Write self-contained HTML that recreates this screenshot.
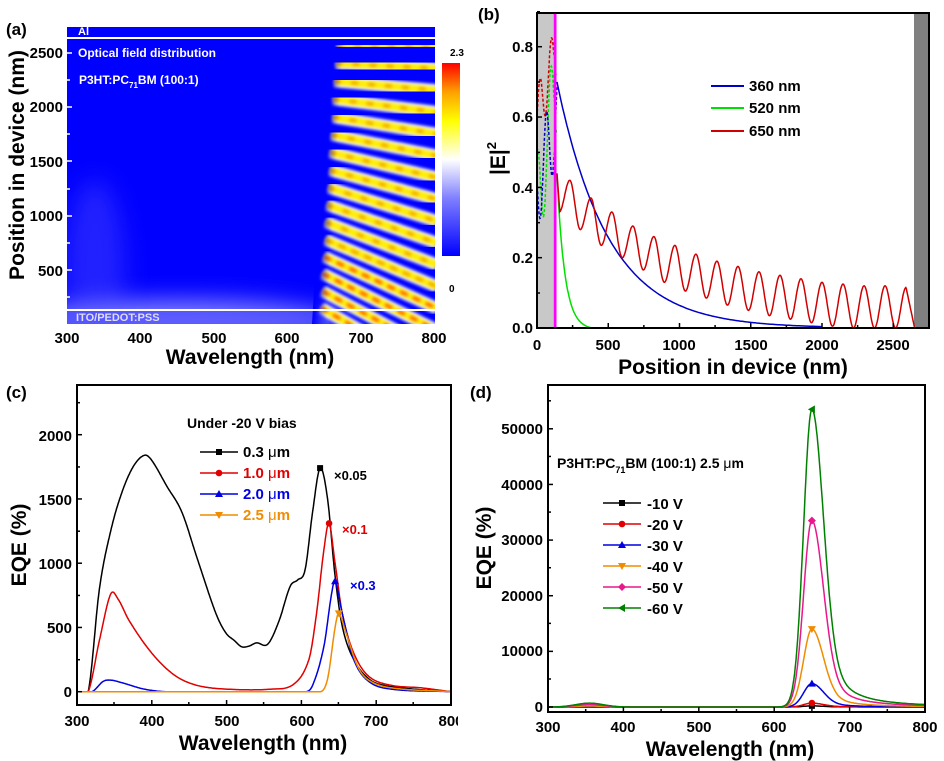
<!DOCTYPE html>
<html><head><meta charset="utf-8"><style>
body{margin:0;background:#fff;}
svg{display:block;font-family:"Liberation Sans",sans-serif;font-weight:bold;}
</style></head><body>
<svg id="s" width="944" height="761" viewBox="0 0 944 761" xmlns="http://www.w3.org/2000/svg">
<defs>
<linearGradient id="cb" x1="0" y1="1" x2="0" y2="0">
<stop offset="0" stop-color="#0000ff"/><stop offset="0.3" stop-color="#8080ff"/><stop offset="0.5" stop-color="#ffffff"/><stop offset="0.7" stop-color="#ffff00"/><stop offset="0.85" stop-color="#ffa000"/><stop offset="1" stop-color="#ff0000"/>
</linearGradient>
<clipPath id="ca"><rect x="67" y="27" width="368" height="297"/></clipPath>
<filter id="bf"><feGaussianBlur stdDeviation="1.5"/></filter>
<filter id="bg" x="-100%" y="-200%" width="300%" height="500%"><feGaussianBlur stdDeviation="12"/></filter>
</defs>

<!-- Panel a -->
<rect x="67" y="27" width="368" height="297" fill="#0000ff"/>
<g clip-path="url(#ca)">
<ellipse cx="180" cy="322" rx="160" ry="22" fill="#b8b8ff" opacity="0.7" filter="url(#bg)"/>
<ellipse cx="95" cy="270" rx="30" ry="90" fill="#6060ff" opacity="0.35" filter="url(#bg)"/>
<rect x="67" y="311" width="262" height="13" fill="#4848ff" opacity="0.6"/>
<g id="stripes"></g>
</g>
<rect x="67" y="27" width="368" height="10" fill="#0000ff"/>
<line x1="67" y1="38" x2="435" y2="38" stroke="#fff" stroke-width="2"/>
<line x1="67" y1="310" x2="435" y2="310" stroke="#fff" stroke-width="2"/>
<g fill="#fff" font-size="11">
<text x="78" y="35">Al</text>
<text x="78" y="57" font-size="12">Optical field distribution</text>
<text x="79" y="84" font-size="12">P3HT:PC<tspan font-size="8" dy="4">71</tspan><tspan dy="-4">BM (100:1)</tspan></text>
<text x="76" y="321" fill="#dde">ITO/PEDOT:PSS</text>
</g>
<g stroke="#fff" stroke-width="1.5">
<line x1="67" y1="53" x2="72" y2="53"/><line x1="67" y1="107" x2="72" y2="107"/>
<line x1="67" y1="161" x2="72" y2="161"/><line x1="67" y1="216" x2="72" y2="216"/>
<line x1="67" y1="270" x2="72" y2="270"/><line x1="67" y1="80" x2="70" y2="80"/><line x1="67" y1="134" x2="70" y2="134"/>
<line x1="67" y1="189" x2="70" y2="189"/><line x1="67" y1="243" x2="70" y2="243"/><line x1="67" y1="297" x2="70" y2="297"/>
</g>
<rect x="442" y="63" width="18" height="193" fill="url(#cb)"/>
<text x="450" y="56" font-size="10">2.3</text>
<text x="449" y="292" font-size="10">0</text>
<g font-size="15" text-anchor="end">
<text x="63" y="58">2500</text><text x="63" y="112">2000</text><text x="63" y="167">1500</text><text x="63" y="221">1000</text><text x="63" y="276">500</text>
</g>
<g font-size="15" text-anchor="middle">
<text x="67" y="343">300</text><text x="140" y="343">400</text><text x="214" y="343">500</text><text x="287" y="343">600</text><text x="361" y="343">700</text><text x="434" y="343">800</text>
</g>
<text x="250" y="364" font-size="21" text-anchor="middle">Wavelength (nm)</text>
<text transform="translate(24,165) rotate(-90)" font-size="21" text-anchor="middle">Position in device (nm)</text>
<text x="6" y="35" font-size="17">(a)</text>

<!-- Panel b -->
<rect x="537" y="13" width="16" height="315" fill="#c8c8c8"/>
<rect x="914" y="13" width="15" height="315" fill="#808080"/>
<g id="bdash" fill="none" stroke-width="1.5" stroke-dasharray="3,2"></g>
<line x1="555" y1="13" x2="555" y2="328" stroke="#ff00ff" stroke-width="3"/>
<g id="bcurves" fill="none" stroke-width="1.5"></g>
<rect x="537" y="13" width="392" height="315" fill="none" stroke="#000" stroke-width="2"/>
<g stroke="#000" stroke-width="1.5" id="bticks"></g>
<g font-size="15" text-anchor="end">
<text x="533" y="333">0.0</text><text x="533" y="263">0.2</text><text x="533" y="193">0.4</text><text x="533" y="122">0.6</text><text x="533" y="52">0.8</text>
</g>
<g font-size="15" text-anchor="middle">
<text x="537" y="350">0</text><text x="608" y="350">500</text><text x="679" y="350">1000</text><text x="751" y="350">1500</text><text x="822" y="350">2000</text><text x="893" y="350">2500</text>
</g>
<text x="733" y="374" font-size="21" text-anchor="middle">Position in device (nm)</text>
<text transform="translate(505,175) rotate(-90)" font-size="21">|E|<tspan font-size="13" dy="-9">2</tspan></text>
<text x="478" y="20" font-size="17">(b)</text>
<line x1="711" y1="86" x2="744" y2="86" stroke="#0000c8" stroke-width="2"/>
<line x1="711" y1="108" x2="744" y2="108" stroke="#00e000" stroke-width="2"/>
<line x1="711" y1="131" x2="744" y2="131" stroke="#d00000" stroke-width="2"/>
<g font-size="15"><text x="749" y="91">360 nm</text><text x="749" y="113">520 nm</text><text x="749" y="136">650 nm</text></g>

<!-- Panel c -->
<g id="ccurves" fill="none" stroke-width="1.5"></g>
<rect x="77" y="385" width="374" height="320" fill="none" stroke="#000" stroke-width="2"/>
<g stroke="#000" stroke-width="1.5" id="cticks"></g>
<g font-size="15" text-anchor="end">
<text x="72" y="697">0</text><text x="72" y="633">500</text><text x="72" y="569">1000</text><text x="72" y="505">1500</text><text x="72" y="441">2000</text>
</g>
<g font-size="15" text-anchor="middle">
<text x="77" y="726">300</text><text x="152" y="726">400</text><text x="227" y="726">500</text><text x="302" y="726">600</text><text x="376" y="726">700</text><text x="451" y="726">800</text>
</g>
<rect x="458" y="705" width="20" height="30" fill="#fff"/>
<text x="263" y="750" font-size="21" text-anchor="middle">Wavelength (nm)</text>
<text transform="translate(26,545) rotate(-90)" font-size="21" text-anchor="middle">EQE (%)</text>
<text x="6" y="398" font-size="17">(c)</text>
<text x="187" y="428" font-size="14">Under -20 V bias</text>
<g font-size="15">
<text x="243" y="457">0.3 <tspan font-weight="normal">μ</tspan>m</text>
<text x="243" y="478" fill="#e00000">1.0 <tspan font-weight="normal">μ</tspan>m</text>
<text x="243" y="499" fill="#0000e0">2.0 <tspan font-weight="normal">μ</tspan>m</text>
<text x="243" y="520" fill="#f08c00">2.5 <tspan font-weight="normal">μ</tspan>m</text>
</g>
<g font-size="13"><text x="334" y="480">×0.05</text><text x="342" y="534" fill="#e00000">×0.1</text><text x="350" y="590" fill="#0000e0">×0.3</text></g>
<g id="cleg"></g>

<!-- Panel d -->
<g id="dcurves" fill="none" stroke-width="1.5"></g>
<rect x="548" y="385" width="377" height="327" fill="none" stroke="#000" stroke-width="2"/>
<g stroke="#000" stroke-width="1.5" id="dticks"></g>
<g font-size="15" text-anchor="end">
<text x="543" y="712">0</text><text x="543" y="656">10000</text><text x="543" y="601">20000</text><text x="543" y="545">30000</text><text x="543" y="490">40000</text><text x="543" y="434">50000</text>
</g>
<g font-size="15" text-anchor="middle">
<text x="548" y="732">300</text><text x="623" y="732">400</text><text x="699" y="732">500</text><text x="774" y="732">600</text><text x="850" y="732">700</text><text x="925" y="732">800</text>
</g>
<text x="730" y="756" font-size="21" text-anchor="middle">Wavelength (nm)</text>
<text transform="translate(491,548) rotate(-90)" font-size="21" text-anchor="middle">EQE (%)</text>
<text x="470" y="398" font-size="17">(d)</text>
<text x="557" y="468" font-size="14">P3HT:PC<tspan font-size="9" dy="5">71</tspan><tspan dy="-5">BM (100:1)  2.5 </tspan><tspan font-weight="normal">μ</tspan>m</text>
<g font-size="15">
<text x="647" y="509">-10 V</text><text x="647" y="530">-20 V</text><text x="647" y="551">-30 V</text><text x="647" y="572">-40 V</text><text x="647" y="593">-50 V</text><text x="647" y="614">-60 V</text>
</g>
<g id="dleg"></g>
</svg>
<script>
var NS="http://www.w3.org/2000/svg";
function el(p,t,a){var e=document.createElementNS(NS,t);for(var k in a)e.setAttribute(k,a[k]);document.getElementById(p).appendChild(e);return e;}
function pts(arr){return arr.map(function(p,i){return (i?"L":"M")+p[0].toFixed(1)+","+p[1].toFixed(1);}).join("");}
// stripes
(function(){
 function X(l){return 67+(l-300)*0.734;}
 function xs(y){return 337-18*(y-27)/297;}
 for(var k=0;k<16;k++){
  var a=[];
  for(var l=630;l<=805;l+=2){var x=X(l),y=38+(k+0.4)*21.7*l/800;if(x>=xs(y))a.push([x,y]);}
  if(a.length<2)continue;
  var d=pts(a);
  el("stripes","path",{d:d,fill:"none",stroke:"#ffffff","stroke-width":12,filter:"url(#bf)",opacity:0.95});
  el("stripes","path",{d:d,fill:"none",stroke:"#ffee00","stroke-width":7,filter:"url(#bf)"});
  var dash=(k>10)?"8,6":"7,10";
  el("stripes","path",{d:d,fill:"none",stroke:(k>11)?"#ff5000":"#f0a000","stroke-width":3,"stroke-dasharray":dash,filter:"url(#bf)"});
 }
 for(var i=0;i<14;i++){
  var op=Math.pow(1-i/14,1.3);
  el("stripes","path",{d:"M"+(330+i)+",27L"+(331.2+i)+",27L"+(313.2+i)+",324L"+(312+i)+",324Z",fill:"#0000ff",opacity:op.toFixed(3)});
 }
})();
// panel b
(function(){
 function X(p){return 537+p*0.1425;} function Y(v){return 328-v*351.6;}
 var b=[],g=[],r=[];
 for(var p=140;p<=2000;p+=10)b.push([X(p),Y(0.70*Math.exp(-(p-140)/360))]);
 for(var p=140;p<=420;p+=5)g.push([X(p),Y(Math.max(0,0.44*Math.exp(-(p-140)/55)-0.005))]);
 var peaks=[0.42,0.37,0.33,0.29,0.26,0.235,0.21,0.19,0.175,0.16,0.15,0.14,0.13,0.125,0.12,0.12,0.115];
 var mins=[0.33,0.28,0.235,0.2,0.165,0.13,0.105,0.085,0.065,0.05,0.035,0.025,0.015,0.005,0,0,0,0];
 r.push([X(140),Y(0.44)]);
 for(var p=160;p<=2650;p+=4){
  var ph=(p-230)/147.5;
  var c=Math.cos(2*Math.PI*ph);
  var i=Math.max(0,Math.min(16,Math.round(ph)));
  var mi=Math.max(0,Math.min(17,Math.floor(ph+1)));
  var pk=peaks[i], mn=mins[mi];
  if(p<230){pk=0.42;mn=0.33;}
  var v=mn+(pk-mn)*(c+1)/2;
  if(p>2590)v=0.115*(2650-p)/60;
  r.push([X(p),Y(v)]);
 }
 el("bcurves","path",{d:pts(b),stroke:"#0000c8"});
 el("bcurves","path",{d:pts(g),stroke:"#00e000"});
 el("bcurves","path",{d:pts(r),stroke:"#d00000"});
 function wave(col,amp,y0,y1,ph,per){var a=[];for(var p=0;p<=140;p+=2){var v=y0+(y1-y0)*p/140+amp*Math.sin(2*Math.PI*p/per+ph);a.push([X(p),Y(v)]);}el("bdash","path",{d:pts(a),stroke:col});}
 wave("#d00000",0.08,0.6,0.8,0,80);
 wave("#00e000",0.15,0.35,0.7,1.5,95);
 wave("#0000c8",0.12,0.4,0.6,3,85);
 for(var i=0;i<=4;i++){var y=Y(i*0.2);el("bticks","line",{x1:537,y1:y,x2:542,y2:y});el("bticks","line",{x1:537,y1:y-35,x2:540,y2:y-35});}
 for(var i=0;i<=5;i++){var x=X(i*500);el("bticks","line",{x1:x,y1:328,x2:x,y2:323});el("bticks","line",{x1:x+35.6,y1:328,x2:x+35.6,y2:325});}
})();
function interp(tab,l){
 for(var i=0;i<tab.length-1;i++){if(l>=tab[i][0]&&l<=tab[i+1][0]){
  var p0=tab[Math.max(0,i-1)],p1=tab[i],p2=tab[i+1],p3=tab[Math.min(tab.length-1,i+2)];
  var t=(l-p1[0])/(p2[0]-p1[0]);
  var m1=(p2[1]-p0[1])/(p2[0]-p0[0])*(p2[0]-p1[0]);
  var m2=(p3[1]-p1[1])/(p3[0]-p1[0])*(p2[0]-p1[0]);
  var t2=t*t,t3=t2*t;
  var v=(2*t3-3*t2+1)*p1[1]+(t3-2*t2+t)*m1+(-2*t3+3*t2)*p2[1]+(t3-t2)*m2;
  return Math.max(0,v);}}return 0;}
// panel c
(function(){
 function X(l){return 77+(l-300)*0.748;} function Y(v){return 691.7-v*0.1285;}
 var S=[
 ["#000",[[300,0],[315,0],[330,800],[345,1250],[360,1550],[375,1750],[390,1840],[400,1800],[420,1600],[440,1400],[460,1050],[480,700],[490,550],[500,450],[510,400],[520,350],[530,355],[540,380],[555,370],[570,550],[585,820],[595,870],[605,950],[615,1400],[625,1740],[635,1500],[645,900],[655,500],[670,250],[690,100],[710,50],[750,20],[800,0]],625,"s"],
 ["#e00000",[[300,0],[315,0],[330,400],[345,760],[355,720],[370,550],[400,300],[430,130],[460,50],[500,20],[560,20],[590,60],[610,250],[620,600],[630,1100],[637,1310],[645,1000],[655,600],[670,300],[690,120],[720,50],[760,30],[800,0]],637,"c"],
 ["#0000e0",[[300,0],[320,0],[335,80],[345,90],[360,70],[390,20],[420,0],[605,0],[615,50],[630,350],[640,750],[645,860],[655,600],[670,250],[690,80],[720,20],[800,0]],645,"t"],
 ["#f08c00",[[300,0],[625,0],[635,100],[645,500],[650,610],[660,450],[675,200],[690,90],[720,30],[800,0]],650,"v"]];
 S.forEach(function(s,i){var a=[];for(var l=300;l<=800;l+=1)a.push([X(l),Y(interp(s[1],l))]);
  el("ccurves","path",{d:pts(a),stroke:s[0]});
  mark("ccurves",s[3],X(s[2]),Y(interp(s[1],s[2])),s[0]);
  var ly=452+i*21;el("cleg","line",{x1:200,y1:ly,x2:238,y2:ly,stroke:s[0],"stroke-width":1.5});mark("cleg",s[3],219,ly,s[0]);
 });
 for(var i=0;i<=4;i++){var y=Y(i*500);el("cticks","line",{x1:77,y1:y,x2:82,y2:y});el("cticks","line",{x1:77,y1:y-32,x2:80,y2:y-32});}
 for(var i=0;i<=5;i++){var x=X(300+i*100);el("cticks","line",{x1:x,y1:705,x2:x,y2:700});if(i<5)el("cticks","line",{x1:x+37,y1:705,x2:x+37,y2:702});}
})();
function mark(g,t,x,y,c){
 if(t=="s")el(g,"rect",{x:x-3,y:y-3,width:6,height:6,fill:c});
 else if(t=="c")el(g,"circle",{cx:x,cy:y,r:3.3,fill:c});
 else if(t=="t")el(g,"path",{d:"M"+x+","+(y-4)+"l4,7h-8z",fill:c});
 else if(t=="v")el(g,"path",{d:"M"+x+","+(y+4)+"l4,-7h-8z",fill:c});
 else if(t=="d")el(g,"path",{d:"M"+x+","+(y-4)+"l4,4l-4,4l-4,-4z",fill:c});
 else if(t=="l")el(g,"path",{d:"M"+(x-4)+","+y+"l7,-4v8z",fill:c});
}
// panel d
(function(){
 function X(l){return 548+(l-300)*0.754;} function Y(v){return 707-v*0.005564;}
 var S=[["#000",200,"s"],["#e00000",700,"c"],["#0000e0",4200,"t"],["#f08c00",14000,"v"],["#e8188c",33500,"d"],["#008000",53500,"l"]];
 S.forEach(function(s,i){var A=s[1],a=[];
  for(var l=300;l<=800;l+=1){var d=l-650;var v;
   if(d<0)v=A*Math.exp(-d*d/(2*11*11));else v=A*(0.75*Math.exp(-d*d/(2*15*15))+0.25/(1+(d/28)*(d/28)));
   v+=A*0.013*Math.exp(-(l-355)*(l-355)/(2*18*18));
   a.push([X(l),Y(v)]);}
  el("dcurves","path",{d:pts(a),stroke:s[0]});
  mark("dcurves",s[2],X(650),Y(A),s[0]);
  var ly=503+i*21;el("dleg","line",{x1:603,y1:ly,x2:641,y2:ly,stroke:s[0],"stroke-width":1.5});mark("dleg",s[2],622,ly,s[0]);
 });
 for(var i=0;i<=5;i++){var y=Y(i*10000);el("dticks","line",{x1:548,y1:y,x2:553,y2:y});el("dticks","line",{x1:548,y1:y-28,x2:551,y2:y-28});}
 for(var i=0;i<=5;i++){var x=X(300+i*100);el("dticks","line",{x1:x,y1:712,x2:x,y2:707});if(i<5)el("dticks","line",{x1:x+37.7,y1:712,x2:x+37.7,y2:709});}
})();
</script>
</body></html>
